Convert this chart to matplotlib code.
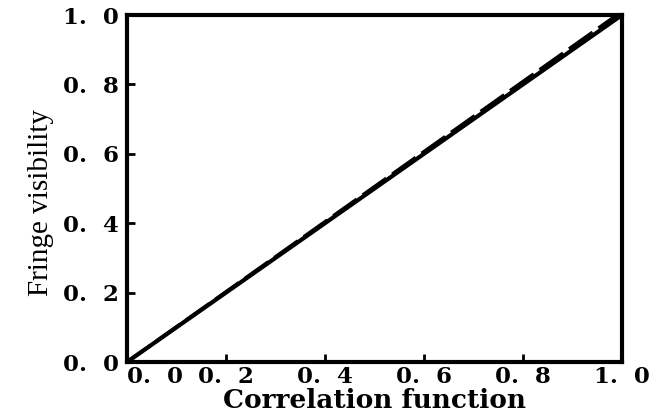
import matplotlib

matplotlib.use("Agg")
import matplotlib.pyplot as plt

# data
corr_solid = [0.0, 1.0]
vis_solid = [0.0, 1.0]
corr_dashed = [0.0, 0.99]
vis_dashed = [0.0, 1.0]
tick_values = [0.0, 0.2, 0.4, 0.6, 0.8, 1.0]
tick_labels = ["0.  0", "0.  2", "0.  4", "0.  6", "0.  8", "1.  0"]

plt.rcParams["font.family"] = ["DejaVu Serif"]

fig = plt.figure(figsize=(6.67, 4.16), dpi=100)
ax = fig.add_axes([0.1904, 0.1298, 0.7421, 0.8341])

ax.plot(corr_solid, vis_solid, color="black", lw=3, solid_capstyle="butt")
ax.plot(corr_dashed, vis_dashed, color="black", lw=2.6, ls=(0, (8, 2)))

ax.set_xlim(0, 1)
ax.set_ylim(0, 1)
for side in ax.spines.values():
    side.set_linewidth(3)

ax.set_xticks(tick_values)
ax.set_yticks(tick_values)
ax.set_xticklabels(tick_labels, fontsize=16.5, fontweight="bold")
ax.set_yticklabels(tick_labels, fontsize=16.5, fontweight="bold")
ax.tick_params(direction="in", length=6, width=2, pad=6)
ax.tick_params(axis="x", pad=3)
ax.get_xticklabels()[0].set_horizontalalignment("left")

ax.set_xlabel("Correlation function", fontsize=19, fontweight="bold", labelpad=0)
ax.set_ylabel("Fringe visibility", fontsize=21, family="Liberation Serif", labelpad=4)
ax.yaxis.set_label_coords(-0.148, 0.46)

fig.savefig("out.png", dpi=100, facecolor="white")
plt.close(fig)
